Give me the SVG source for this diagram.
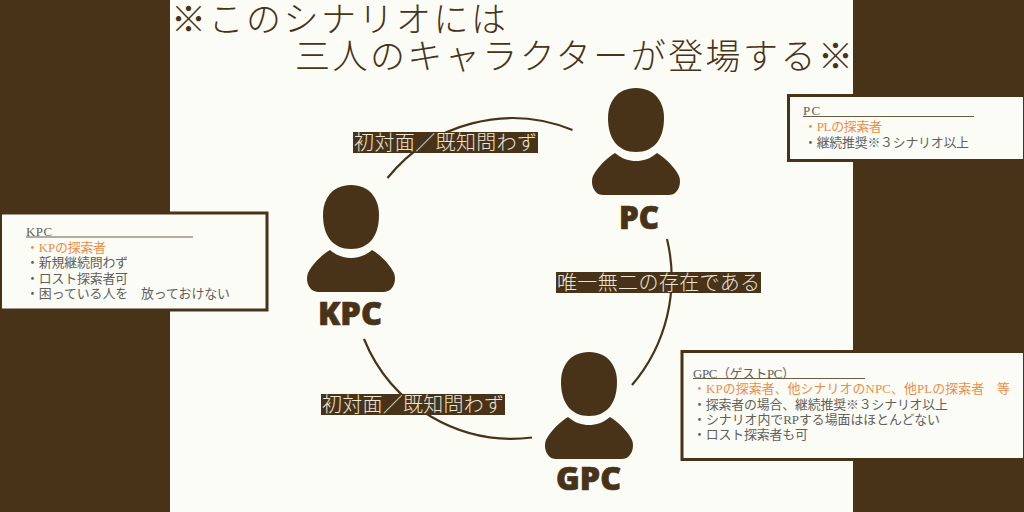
<svg xmlns="http://www.w3.org/2000/svg" width="1024" height="512" viewBox="0 0 1024 512">
<style>
.jp{font-family:"Liberation Serif","Noto Sans CJK JP",serif}
.title{font-family:"Noto Sans CJK JP",sans-serif;font-weight:300;font-size:35px;fill:#483318}
.name{font-family:"Open Sans","Noto Sans",sans-serif;font-weight:800;font-size:31px;fill:#483318;stroke:#483318;stroke-width:.7}
.lab{font-family:"Noto Sans CJK JP",serif;font-weight:300;font-size:20px;fill:#e9e5d9}
.labbg{fill:#483318}
.box{fill:#fcfcf7;stroke:#483318;stroke-width:3}
.t{font-size:12.9px;fill:#605f5a}
.o{fill:#ee8c46}
.rule{stroke:#6b5a45;stroke-width:1}
.arc{fill:none;stroke:#483318;stroke-width:2.2}
.fig{fill:#483318}
</style>
<defs>
<g id="person">
<path d="M0,0C19,0 28,14 28,30C28,51 18,64 0,64C-18,64 -28,51 -28,30C-28,14 -19,0 0,0Z"/>
<path d="M-21,65C-14,71 -7,73 0,73C7,73 14,71 21,65C28,69 38,78 43,88C46,96 42,107 33,107L-33,107C-42,107 -46,96 -43,88C-38,78 -28,69 -21,65Z"/>
</g>
</defs>
<rect width="1024" height="512" fill="#483318"/>
<rect x="170" width="683" height="512" fill="#fcfcf7"/>
<g id="title">
<text class="title" x="171" y="32" textLength="335">※このシナリオには</text>
<text class="title" x="295" y="69" textLength="558">三人のキャラクターが登場する※</text>
</g>
<g id="connectors">
<path class="arc" d="M387.500,178A160,160 0 0 1 572.500,130"/>
<path class="arc" d="M667,239A165,165 0 0 1 632,385"/>
<path class="arc" d="M364,339A160,160 0 0 0 532,437.500"/>
</g>
<g id="label-top"><rect class="labbg" x="353" y="132" width="185" height="21"/><text class="lab" x="354" y="150" textLength="183">初対面／既知問わず</text></g>
<g id="label-right"><rect class="labbg" x="556" y="272" width="205" height="21"/><text class="lab" x="557" y="290" textLength="203">唯一無二の存在である</text></g>
<g id="label-bottom"><rect class="labbg" x="321" y="394" width="184" height="21"/><text class="lab" x="322" y="412" textLength="182">初対面／既知問わず</text></g>
<g id="node-pc"><use href="#person" class="fig" x="636" y="88"/><text class="name" x="619" y="229" textLength="40" lengthAdjust="spacingAndGlyphs">PC</text></g>
<g id="node-kpc"><use href="#person" class="fig" x="351" y="185"/><text class="name" x="318" y="325" textLength="64" lengthAdjust="spacingAndGlyphs">KPC</text></g>
<g id="node-gpc"><use href="#person" class="fig" x="589" y="352"/><text class="name" x="556" y="490" textLength="65" lengthAdjust="spacingAndGlyphs">GPC</text></g>
<g id="box-kpc" class="jp">
<rect class="box" x="0.500" y="213" width="266.500" height="97"/>
<text class="t" x="26" y="236" textLength="26">KPC</text><line class="rule" x1="26" y1="237" x2="193" y2="237"/>
<text class="t o" x="26" y="252" textLength="80">・KPの探索者</text>
<text class="t" x="26" y="267" textLength="102">・新規継続問わず</text>
<text class="t" x="26" y="282.500" textLength="102">・ロスト探索者可</text>
<text class="t" x="26" y="298" textLength="204">・困っている人を　放っておけない</text>
</g>
<g id="box-pc" class="jp">
<rect class="box" x="788.500" y="95.500" width="236" height="65"/>
<text class="t" x="803" y="115" textLength="17">PC</text><line class="rule" x1="803" y1="116.500" x2="974" y2="116.500"/>
<text class="t o" x="804" y="131" textLength="78">・PLの探索者</text>
<text class="t" x="804" y="147" textLength="165">・継続推奨※３シナリオ以上</text>
</g>
<g id="box-gpc" class="jp">
<rect class="box" x="682" y="351.500" width="342.500" height="108"/>
<text class="t" x="693" y="378" textLength="102">GPC（ゲストPC）</text><line class="rule" x1="693" y1="378.500" x2="865" y2="378.500"/>
<text class="t o" x="693" y="393" textLength="317">・KPの探索者、他シナリオのNPC、他PLの探索者　等</text>
<text class="t" x="693" y="408.500" textLength="255">・探索者の場合、継続推奨※３シナリオ以上</text>
<text class="t" x="693" y="423.500" textLength="247">・シナリオ内でRPする場面はほとんどない</text>
<text class="t" x="693" y="439" textLength="115">・ロスト探索者も可</text>
</g>
</svg>
